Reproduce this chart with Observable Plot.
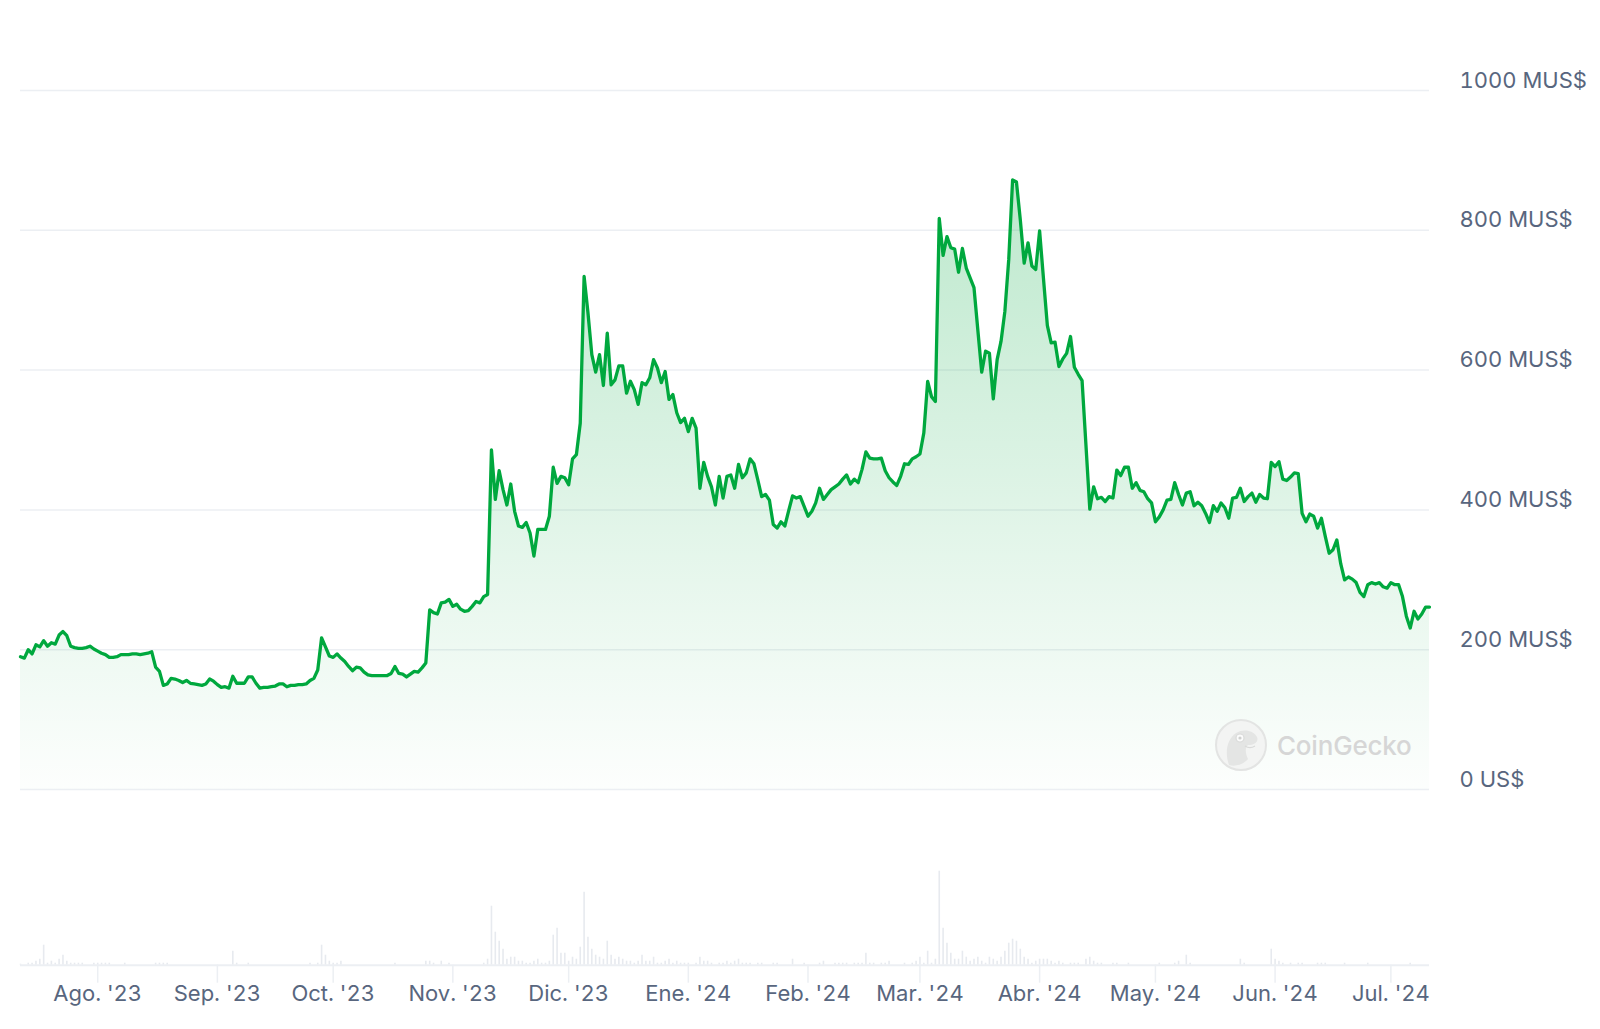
<!DOCTYPE html>
<html>
<head>
<meta charset="utf-8">
<script src="https://cdn.jsdelivr.net/npm/d3@7"></script>
<script src="https://cdn.jsdelivr.net/npm/@observablehq/plot@0.6"></script>
<style>
  html, body { margin: 0; padding: 0; background: #fff; }
  #wrap { position: relative; width: 1600px; height: 1029px; overflow: hidden; background: #fff;
          font-family: Inter, "Noto Sans", "DejaVu Sans", sans-serif; }
  #price, #volume { position: absolute; left: 0; }
  #price { top: 0; }
  #volume { top: 800px; }
  #wm { position: absolute; left: 1214px; top: 718px; height: 54px; display: flex; align-items: center; gap: 9px; }
  #wm span { font-size: 26px; color: #d6d6d6; font-weight: 500; letter-spacing: -0.2px; }
</style>
</head>
<body>
<div id="wrap">
  <div id="price"></div>
  <div id="volume"></div>
  <div id="wm">
    <svg width="54" height="54" viewBox="0 0 54 54">
      <circle cx="27" cy="27" r="25" fill="#f3f4f3" stroke="#e3e4e3" stroke-width="2"/>
      <path d="M15 47 C 11 36, 12 22, 22 15 C 30 10, 40 13, 43 19 C 45 24, 40 27, 34 27 C 31 29, 31 35, 34 41 C 30 46, 22 49, 15 47 Z" fill="#e4e5e4"/>
      <circle cx="26" cy="20" r="4" fill="#fbfbfb" stroke="#d9dad9" stroke-width="1.2"/>
      <circle cx="26" cy="20" r="1.6" fill="#cfd0cf"/>
      <path d="M31 28 C 34 30, 38 30, 41 28" fill="none" stroke="#d9dad9" stroke-width="1.2"/>
    </svg>
    <span>CoinGecko</span>
  </div>
</div>
<script>
// ---- Data (market cap in millions of US$, one value per day) ----
const startDate = "2023-07-12";
const endDate = "2024-07-12"; // exclusive

const marketCapM = [
  190, 188, 200, 194, 207, 204, 213, 205, 210, 208,
  221, 226, 220, 205, 203, 202, 202, 203, 205, 201,
  198, 195, 193, 189, 189, 190, 193, 193, 193, 194,
  194, 193, 194, 195, 197, 175, 169, 149, 151, 159,
  158, 156, 153, 156, 152, 151, 150, 149, 151, 158,
  155, 150, 146, 147, 145, 162, 152, 152, 152, 161,
  161, 152, 145, 146, 146, 147, 148, 151, 151, 147,
  149, 149, 150, 150, 151, 156, 159, 171, 217, 204,
  191, 189, 194, 188, 183, 176, 170, 175, 174, 168,
  164, 163, 163, 163, 163, 163, 166, 176, 166, 165,
  161, 165, 169, 168, 174, 181, 257, 253, 251, 267,
  268, 272, 262, 265, 258, 255, 256, 262, 269, 267,
  276, 279, 486, 415, 456, 429, 407, 437, 398, 377,
  375, 382, 367, 334, 372, 372, 372, 391, 461, 438,
  448, 446, 436, 473, 479, 524, 734, 682, 622, 597,
  622, 578, 653, 579, 586, 606, 606, 567, 584, 572,
  551, 582, 579, 589, 615, 603, 582, 598, 558, 565,
  539, 525, 531, 512, 531, 517, 431, 468, 448, 433,
  407, 448, 417, 448, 450, 431, 465, 446, 453, 473,
  466, 443, 419, 422, 414, 379, 374, 383, 377, 399,
  420, 417, 419, 405, 391, 398, 410, 431, 415, 422,
  429, 433, 437, 444, 450, 437, 444, 439, 458, 483,
  474, 473, 473, 474, 456, 446, 440, 435, 448, 466,
  465, 473, 476, 480, 510, 584, 562, 555, 817, 764,
  791, 775, 773, 740, 774, 746, 732, 718, 657, 597,
  627, 624, 559, 615, 641, 684, 758, 872, 869, 815,
  753, 782, 749, 744, 799, 731, 664, 639, 640, 605,
  616, 624, 648, 604, 594, 585, 493, 401, 433, 416,
  418, 412, 419, 417, 457, 449, 461, 461, 431, 439,
  428, 426, 416, 410, 383, 390, 400, 414, 415, 439,
  422, 407, 424, 426, 406, 411, 406, 395, 382, 406,
  398, 410, 403, 388, 417, 418, 431, 412, 419, 424,
  411, 422, 417, 416, 468, 462, 469, 444, 442, 447,
  453, 452, 395, 383, 394, 391, 374, 388, 362, 338,
  343, 357, 323, 300, 304, 301, 296, 282, 276, 293,
  296, 294, 296, 290, 288, 296, 293, 293, 276, 248,
  231, 255, 244, 251, 261, 261
];

// relative daily trading volume (no axis in the original)
const volume = [
  1, 0, 2, 2, 4, 6, 20, 2, 4, 2,
  6, 10, 4, 2, 2, 2, 2, 0, 0, 2,
  2, 2, 2, 2, 0, 0, 0, 2, 0, 0,
  0, 0, 0, 0, 0, 2, 2, 2, 2, 0,
  0, 0, 0, 0, 0, 0, 0, 0, 0, 0,
  0, 0, 0, 0, 0, 14, 2, 0, 0, 2,
  0, 0, 0, 0, 0, 0, 0, 0, 0, 0,
  0, 0, 0, 0, 0, 2, 0, 2, 20, 10,
  4, 2, 2, 4, 0, 0, 0, 0, 0, 0,
  0, 0, 0, 0, 0, 0, 0, 2, 0, 0,
  0, 0, 0, 0, 0, 4, 4, 2, 0, 4,
  0, 2, 0, 0, 0, 0, 0, 0, 0, 0,
  2, 6, 59, 33, 24, 16, 6, 8, 8, 4,
  4, 2, 2, 4, 6, 2, 2, 4, 30, 37,
  12, 12, 4, 8, 6, 18, 73, 28, 16, 10,
  8, 6, 24, 10, 6, 8, 6, 4, 4, 2,
  4, 10, 4, 4, 8, 2, 2, 4, 6, 2,
  4, 2, 2, 2, 0, 2, 8, 4, 4, 2,
  0, 2, 2, 4, 2, 4, 6, 2, 2, 2,
  0, 2, 2, 0, 0, 2, 2, 0, 0, 0,
  6, 0, 0, 2, 0, 0, 0, 2, 4, 0,
  0, 2, 2, 2, 2, 0, 2, 2, 2, 12,
  2, 2, 0, 2, 2, 4, 0, 0, 0, 2,
  0, 2, 4, 8, 2, 14, 2, 6, 94, 37,
  22, 12, 6, 6, 14, 8, 4, 6, 8, 4,
  2, 8, 6, 4, 8, 14, 22, 26, 24, 16,
  8, 6, 2, 4, 6, 6, 6, 4, 2, 4,
  2, 0, 2, 2, 2, 0, 6, 8, 4, 2,
  2, 0, 0, 2, 2, 0, 0, 2, 0, 0,
  0, 0, 0, 0, 0, 2, 0, 0, 0, 2,
  4, 0, 10, 2, 0, 0, 0, 0, 0, 0,
  0, 0, 0, 0, 0, 0, 6, 2, 0, 0,
  0, 0, 0, 0, 16, 6, 4, 2, 0, 2,
  0, 2, 2, 0, 0, 0, 2, 2, 2, 0,
  0, 0, 0, 2, 0, 0, 0, 0, 0, 2,
  0, 0, 0, 0, 0, 0, 0, 0, 0, 0,
  2, 0, 0, 0, 0, 0
];

const yTicks = [0, 200, 400, 600, 800, 1000];
const monthNames = ["Ene.", "Feb.", "Mar.", "Abr.", "May.", "Jun.", "Jul.", "Ago.", "Sep.", "Oct.", "Nov.", "Dic."];

// ---- Build table ----
const dates = d3.utcDay.range(new Date(startDate), new Date(endDate));
const data = dates.map((date, i) => ({date, cap: marketCapM[i], volume: volume[i]}));
const xDomain = [dates[0], dates[dates.length - 1]];
const monthTicks = d3.utcMonth.range(d3.utcMonth.ceil(dates[0]), dates[dates.length - 1]);

const textColor = "#58667e";
const gridColor = "#eceff3";
const green = "#00a83e";
const baseStyle = {fontFamily: 'Inter, "Noto Sans", sans-serif', fontSize: "22px", color: textColor, background: "transparent", overflow: "visible"};

const priceChart = Plot.plot({
  width: 1600,
  height: 800,
  marginLeft: 20,
  marginRight: 171,
  marginTop: 90,
  marginBottom: 11,
  style: baseStyle,
  x: {type: "utc", domain: xDomain, axis: null},
  y: {domain: [0, 1000], axis: null},
  marks: [
    Plot.gridY(yTicks, {stroke: gridColor, strokeOpacity: 1, strokeWidth: 1.5}),
    Plot.areaY(data, {x: "date", y: "cap", fill: "url(#capFill)"}),
    Plot.lineY(data, {x: "date", y: "cap", stroke: green, strokeWidth: 3.3, strokeLinejoin: "round", strokeLinecap: "round"}),
    Plot.axisY(yTicks, {
      anchor: "right", tickSize: 0, tickPadding: 30, dy: -10, label: null,
      fill: textColor, fontSize: 22,
      tickFormat: d => d === 0 ? "0 US$" : `${d} MUS$`
    })
  ]
});

// gradient for the area fill
const ns = "http://www.w3.org/2000/svg";
const defs = document.createElementNS(ns, "defs");
const grad = document.createElementNS(ns, "linearGradient");
grad.setAttribute("id", "capFill");
grad.setAttribute("x1", "0"); grad.setAttribute("y1", "0");
grad.setAttribute("x2", "0"); grad.setAttribute("y2", "1");
[[0, 0.26], [0.55, 0.12], [1, 0.01]].forEach(([o, a]) => {
  const s = document.createElementNS(ns, "stop");
  s.setAttribute("offset", o);
  s.setAttribute("stop-color", green);
  s.setAttribute("stop-opacity", a);
  grad.appendChild(s);
});
defs.appendChild(grad);
priceChart.insertBefore(defs, priceChart.firstChild);
document.getElementById("price").appendChild(priceChart);

const volumeChart = Plot.plot({
  width: 1600,
  height: 229,
  marginLeft: 20,
  marginRight: 171,
  marginTop: 64.7,
  marginBottom: 64.3,
  style: baseStyle,
  x: {type: "utc", domain: xDomain},
  y: {domain: [0, 100], axis: null},
  marks: [
    Plot.ruleX(data.filter(d => d.volume > 0), {x: "date", y: "volume", stroke: "#e7eaef", strokeWidth: 1.6}),
    Plot.ruleY([0], {stroke: gridColor, strokeWidth: 2}),
    Plot.axisX(monthTicks, {
      tickSize: 18, tickPadding: 2, stroke: gridColor, strokeWidth: 1.5, label: null,
      fill: textColor, fontSize: 22,
      tickFormat: d => `${monthNames[d.getUTCMonth()]} '${String(d.getUTCFullYear()).slice(2)}`
    })
  ]
});
document.getElementById("volume").appendChild(volumeChart);
</script>
</body>
</html>
